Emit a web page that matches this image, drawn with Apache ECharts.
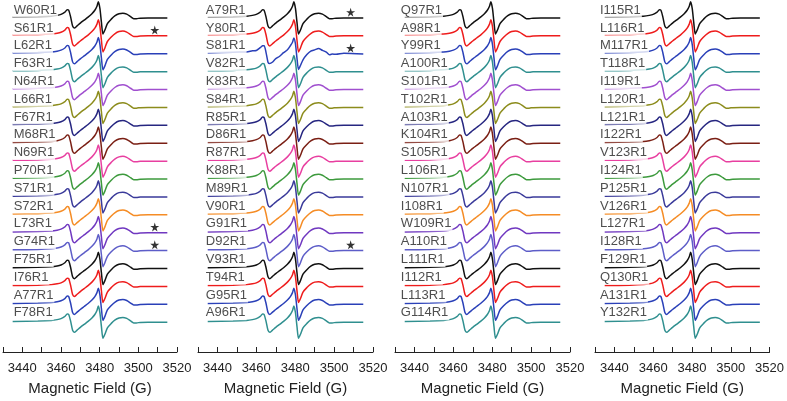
<!DOCTYPE html>
<html><head><meta charset="utf-8">
<script src="https://cdn.jsdelivr.net/npm/echarts@6/dist/echarts.min.js"></script>
<style>html,body{margin:0;padding:0;background:#fff}#c{width:787px;height:401px}</style>
</head><body><div id="c"></div>
<script>
// Magnetic field sample positions (G)
const FIELD = [3435, 3448, 3455, 3458, 3460, 3462, 3463.2, 3464, 3465, 3466, 3466.9, 3468.2, 3470, 3472, 3474, 3476, 3477.5, 3478.6, 3479.3, 3480.1, 3480.9, 3481.7, 3482.7, 3484, 3486, 3488, 3490, 3492, 3494, 3496, 3497.6, 3499, 3501, 3505, 3515];
// typical R1 derivative spectrum (signal, arbitrary units, up positive)
const SHAPE_A = [0, 0.4, 1.0, 1.8, 2.8, 5, 7.5, 7, 0, -9, -11, -9, -6, -3, 0, 3.5, 7, 11, 15.5, 9, -5, -17, -13, -6.5, -2, 1.5, 3.5, 4, 3, 0.5, -1.5, -1.5, -1, -0.8, -0.8];
// noisy spectrum (S81R1)
const SHAPE_N = [0, 0.8, 0.9, 2.2, 2.5, 5.3, 7.2, 7.3, 0.4, -9.3, -10.7, -9.4, -5.7, -3.3, 0.3, 3.2, 7.3, 10.8, 15.2, 9.3, -5.2, -16.6, -12.6, -6.9, -1.6, 1.9, 3.1, 4.4, 2.6, 0.9, -1.9, -1.1, -1.4, -0.4, -1.1];

const PANEL1 = ['W60R1','S61R1','L62R1','F63R1','N64R1','L66R1','F67R1','M68R1','N69R1','P70R1','S71R1','S72R1','L73R1','G74R1','F75R1','I76R1','A77R1','F78R1'];
const PANEL2 = ['A79R1','Y80R1','S81R1','V82R1','K83R1','S84R1','R85R1','D86R1','R87R1','K88R1','M89R1','V90R1','G91R1','D92R1','V93R1','T94R1','G95R1','A96R1'];
const PANEL3 = ['Q97R1','A98R1','Y99R1','A100R1','S101R1','T102R1','A103R1','K104R1','S105R1','L106R1','N107R1','I108R1','W109R1','A110R1','L111R1','I112R1','L113R1','G114R1'];
const PANEL4 = ['I115R1','L116R1','M117R1','T118R1','I119R1','L120R1','L121R1','I122R1','V123R1','I124R1','P125R1','V126R1','L127R1','I128R1','F129R1','Q130R1','A131R1','Y132R1'];
const STARRED = ['S61R1','L73R1','G74R1','A79R1','S81R1','D92R1'];
const NOISY = ['S81R1'];
const X_TICKS = [3440, 3460, 3480, 3500, 3520];

const COLORS = ['#111111','#ee1c1c','#2a40b8','#2f8f8f','#a04fcf','#8c8c1c','#262680','#7a1f14','#e83fa0','#3d9a3d','#3a3a9a','#f58c25','#7038c0','#5d5dc8'];

const panels = [PANEL1, PANEL2, PANEL3, PANEL4];
const lefts = [2, 198, 395, 595];
const labelField = [3435, 3433.5, 3432.5, 3432];
const STAR = 'path://M50,0 L61,35 L98,35 L68,57 L79,91 L50,70 L21,91 L32,57 L2,35 L39,35 Z';

const grids = [], xAxes = [], yAxes = [], series = [];
panels.forEach((names, p) => {
  grids.push({left: lefts[p], top: 0, width: 175, height: 355});
  xAxes.push({
    gridIndex: p, type: 'value', min: 3430, max: 3520, interval: 10,
    axisLine: {show: true, onZero: false, lineStyle: {color: '#222', width: 1}},
    axisTick: {show: true, inside: true, length: 5, lineStyle: {color: '#222'}},
    axisLabel: {formatter: v => X_TICKS.indexOf(v) >= 0 ? String(v) : '', fontSize: 13, color: '#222', margin: 10, fontFamily: 'Liberation Sans', showMaxLabel: true, showMinLabel: true, hideOverlap: false},
    splitLine: {show: false},
    name: 'Magnetic Field (G)', nameLocation: 'middle', nameGap: 29,
    nameTextStyle: {fontSize: 15, color: '#222', fontFamily: 'Liberation Sans'}
  });
  yAxes.push({gridIndex: p, type: 'value', min: -355, max: 0, show: false});
  const labelData = [], starData = [];
  names.forEach((nm, i) => {
    const base = 17.3 + 18.05 * i;
    const labelY = 10.3 + 17.95 * i;
    const shape = NOISY.indexOf(nm) >= 0 ? SHAPE_N : SHAPE_A;
    const col = COLORS[i % COLORS.length];
    series.push({
      type: 'line', name: nm, xAxisIndex: p, yAxisIndex: p, showSymbol: false, smooth: 0.25,
      data: FIELD.map((f, k) => [f, -base + shape[k]]),
      lineStyle: {color: col, width: 1.5}, itemStyle: {color: col}, z: 2, animation: false
    });
    labelData.push({value: [labelField[p], -labelY], name: nm});
    if (STARRED.indexOf(nm) >= 0) starData.push([3508.5, -base + 5]);
  });
  series.push({
    type: 'scatter', xAxisIndex: p, yAxisIndex: p, symbolSize: 0, z: 5, animation: false, silent: true,
    data: labelData,
    label: {show: true, position: 'right', distance: 0, formatter: d => d.name, fontSize: 13, color: '#222',
      fontFamily: 'Liberation Sans', backgroundColor: '#fff', padding: [0, 1, 0, 1], lineHeight: 15}
  });
  series.push({
    type: 'scatter', xAxisIndex: p, yAxisIndex: p, symbol: STAR, symbolSize: 9, z: 6, animation: false, silent: true,
    itemStyle: {color: '#000'}, data: starData
  });
});

const chart = echarts.init(document.getElementById('c'), null, {renderer: 'canvas'});
chart.setOption({animation: false, backgroundColor: '#fff', grid: grids, xAxis: xAxes, yAxis: yAxes, series: series});
</script></body></html>
